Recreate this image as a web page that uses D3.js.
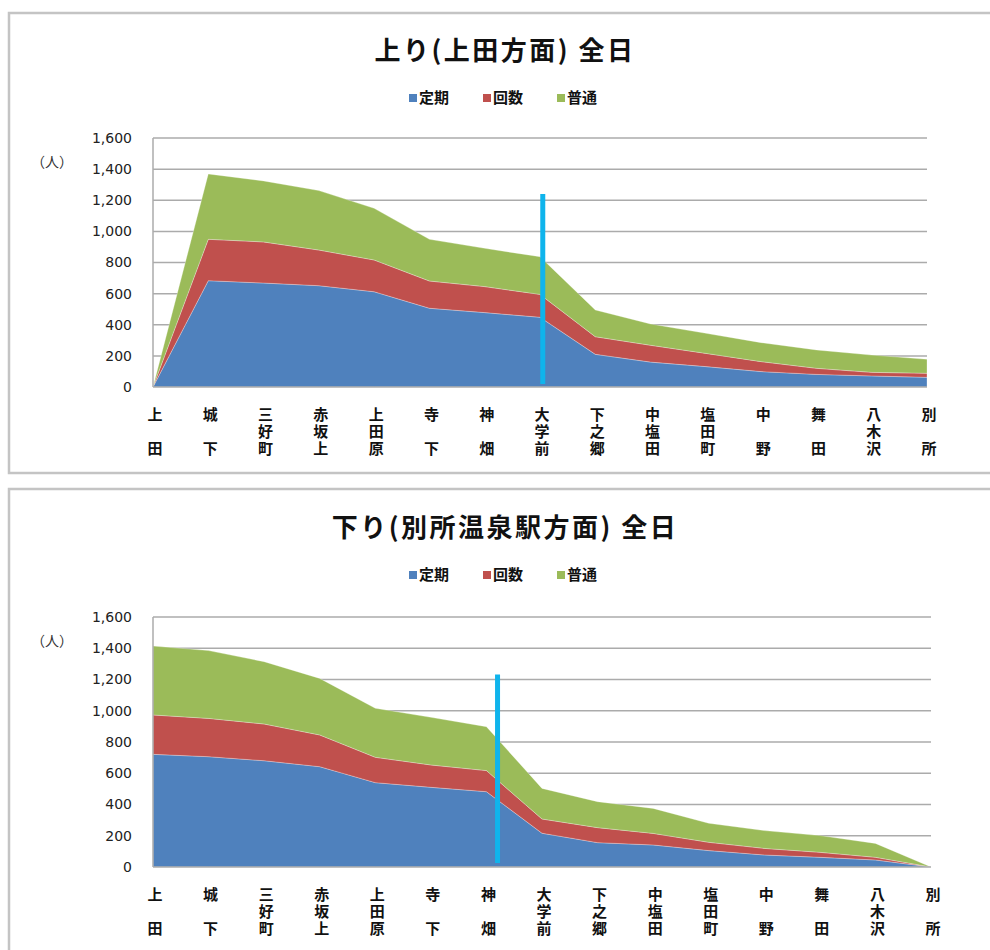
<!DOCTYPE html>
<html>
<head>
<meta charset="utf-8">
<script src="https://cdn.jsdelivr.net/npm/d3@7"></script>
<style>
  body { margin: 0; background: #fff; }
  svg { display: block; }
</style>
</head>
<body>
<div id="target"></div>
<script>
// stations along the line (上田 -> 別所温泉)
const stations = ['上田', '城下', '三好町', '赤坂上', '上田原', '寺下', '神畑', '大学前',
    '下之郷', '中塩田', '塩田町', '中野', '舞田', '八木沢', '別所']
const seriesNames = ['定期', '回数', '普通']
const yTicks = [0, 200, 400, 600, 800, 1000, 1200, 1400, 1600]

// 上り (上田方面)
const upTeiki = [0, 683, 668, 651, 612, 506, 478, 448, 210, 160, 131, 99, 81, 71, 62]
const upKaisu = [0, 266, 264, 229, 204, 175, 167, 147, 113, 108, 85, 64, 39, 23, 26]
const upFutsu = [0, 420, 392, 382, 332, 268, 246, 242, 172, 137, 129, 122, 118, 111, 90]

// 下り (別所温泉駅方面)
const downTeiki = [721, 706, 680, 642, 540, 510, 482, 216, 156, 141, 105, 77, 62, 45, 0]
const downKaisu = [252, 245, 235, 203, 162, 143, 135, 91, 96, 74, 53, 42, 32, 17, 0]
const downFutsu = [441, 434, 399, 362, 314, 305, 281, 196, 166, 160, 122, 114, 107, 89, 0]

const colors = {
    series: ['#4f81bd', '#c0504d', '#9bbb59'],
    marker: '#0fb4ec',
    grid: '#ababab',
    frame: '#c4c4c4',
    text: '#111'
}

const W = 990, H = 950
const svg = d3.select('#target').append('svg')
    .attr('width', W)
    .attr('height', H)

const charts = [
    {
        title: '上り(上田方面) 全日',
        values: [upTeiki, upKaisu, upFutsu],
        frameTop: 13, frameBottom: 473,
        titleY: 48, legendY: 96,
        plotTop: 138, plotBottom: 387, plotLeft: 153, plotRight: 927,
        marker: { station: '大学前', shift: 0.05, from: 20, to: 1240 }
    },
    {
        title: '下り(別所温泉駅方面) 全日',
        values: [downTeiki, downKaisu, downFutsu],
        frameTop: 489, frameBottom: 980,
        titleY: 525, legendY: 573,
        plotTop: 617, plotBottom: 867, plotLeft: 153, plotRight: 931,
        marker: { station: '神畑', shift: 0.2, from: 25, to: 1232 }
    }
]

function drawChart(cfg) {
    const g = svg.append('g')

    //Frame
    g.append('rect')
        .attr('x', 9)
        .attr('y', cfg.frameTop)
        .attr('width', W + 20)
        .attr('height', cfg.frameBottom - cfg.frameTop)
        .attr('fill', 'white')
        .attr('stroke', colors.frame)
        .attr('stroke-width', 2.5)

    //Title
    g.append('text')
        .attr('x', 505)
        .attr('y', cfg.titleY)
        .attr('text-anchor', 'middle')
        .attr('dominant-baseline', 'central')
        .attr('font-family', '"Noto Sans CJK JP", sans-serif')
        .attr('font-weight', 'bold')
        .attr('font-size', 26)
        .attr('letter-spacing', 2.5)
        .attr('fill', colors.text)
        .text(cfg.title)

    //Legend
    const legend = g.append('g')
        .attr('transform', `translate(409,${cfg.legendY})`)
    seriesNames.forEach((name, i) => {
        const item = legend.append('g')
            .attr('transform', `translate(${i * 74},0)`)
        item.append('rect')
            .attr('x', 0)
            .attr('y', -2)
            .attr('width', 8)
            .attr('height', 8)
            .attr('fill', colors.series[i])
        item.append('text')
            .attr('x', 10)
            .attr('y', 0)
            .attr('dominant-baseline', 'central')
            .attr('font-family', '"Noto Sans CJK JP", sans-serif')
            .attr('font-weight', 'bold')
            .attr('font-size', 15)
            .attr('fill', colors.text)
            .text(name)
    })

    //Scales
    const x = d3.scalePoint()
        .domain(stations)
        .range([cfg.plotLeft, cfg.plotRight])
    const y = d3.scaleLinear()
        .domain([0, 1600])
        .range([cfg.plotBottom, cfg.plotTop])

    //Grid
    g.append('g')
        .selectAll('line')
        .data(yTicks.slice(1))
        .enter()
        .append('line')
        .attr('x1', cfg.plotLeft)
        .attr('x2', cfg.plotRight)
        .attr('y1', d => y(d))
        .attr('y2', d => y(d))
        .attr('stroke', colors.grid)
        .attr('stroke-width', 1.5)

    //Stacked areas
    const rows = stations.map((s, i) => {
        const row = { station: s }
        seriesNames.forEach((name, k) => row[name] = cfg.values[k][i])
        return row
    })
    const stacked = d3.stack().keys(seriesNames)(rows)
    const area = d3.area()
        .x(d => x(d.data.station))
        .y0(d => y(d[0]))
        .y1(d => y(d[1]))

    g.append('g')
        .selectAll('path')
        .data(stacked)
        .enter()
        .append('path')
        .attr('d', area)
        .attr('fill', (d, i) => colors.series[i])
        .attr('stroke', 'white')
        .attr('stroke-opacity', 0.35)
        .attr('stroke-width', 0.8)

    //Axes
    g.append('line')
        .attr('x1', cfg.plotLeft)
        .attr('x2', cfg.plotLeft)
        .attr('y1', y(1600))
        .attr('y2', y(0))
        .attr('stroke', colors.grid)
        .attr('stroke-width', 1.5)
    g.append('line')
        .attr('x1', cfg.plotLeft)
        .attr('x2', cfg.plotRight)
        .attr('y1', y(0))
        .attr('y2', y(0))
        .attr('stroke', colors.grid)
        .attr('stroke-width', 1.5)

    const yAxis = g.append('g')
        .attr('transform', `translate(${cfg.plotLeft - 18},0)`)
        .call(d3.axisLeft(y).tickValues(yTicks).tickSize(0).tickFormat(d3.format(',')))
    yAxis.select('.domain').remove()
    yAxis.selectAll('text')
        .attr('font-family', '"DejaVu Sans", sans-serif')
        .attr('font-size', 14)
        .attr('fill', '#222')

    g.append('text')
        .attr('x', 52)
        .attr('y', y(1450))
        .attr('text-anchor', 'middle')
        .attr('dominant-baseline', 'central')
        .attr('font-family', '"Noto Sans CJK JP", sans-serif')
        .attr('font-size', 14)
        .attr('fill', '#333')
        .text('（人）')

    //Station labels: one text each, characters placed in rows (2-char names use rows 0 and 2)
    const rowGap = 17
    const rowsOf = name => {
        const n = Array.from(name).length
        return n === 2 ? [0, 2] : d3.range(n)
    }
    g.append('g')
        .selectAll('text')
        .data(stations)
        .enter()
        .append('text')
        .attr('x', d => rowsOf(d).map(() => x(d) + 2).join(' '))
        .attr('y', d => rowsOf(d).map(r => y(0) + 26 + r * rowGap).join(' '))
        .attr('text-anchor', 'middle')
        .attr('dominant-baseline', 'central')
        .attr('font-family', '"Noto Sans CJK JP", sans-serif')
        .attr('font-weight', 'bold')
        .attr('font-size', 15)
        .attr('fill', colors.text)
        .text(d => d)

    //Marker line
    const m = cfg.marker
    const mx = x(m.station) + m.shift * x.step()
    g.append('line')
        .attr('x1', mx)
        .attr('x2', mx)
        .attr('y1', y(m.to))
        .attr('y2', y(m.from))
        .attr('stroke', colors.marker)
        .attr('stroke-width', 5)
}

charts.forEach(drawChart)
</script>
</body>
</html>
